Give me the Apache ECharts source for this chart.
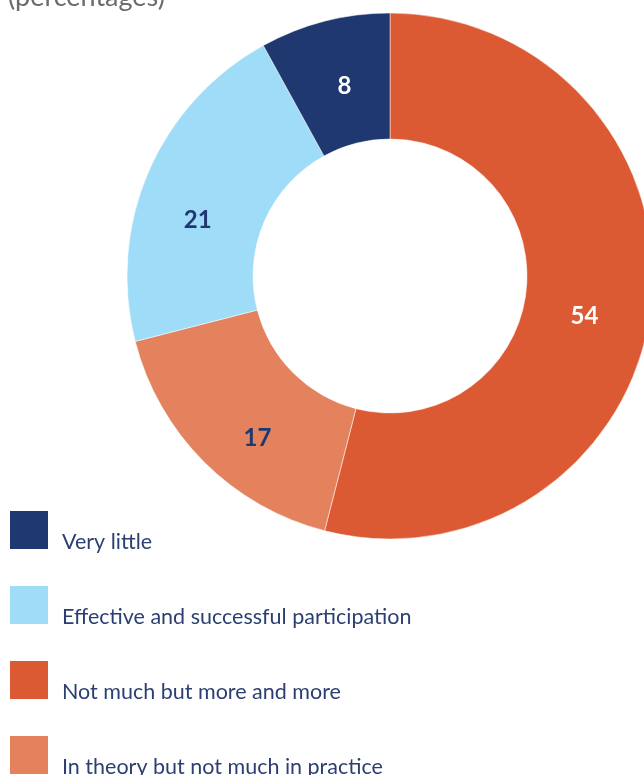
<!DOCTYPE html>
<html>
<head>
<meta charset="utf-8">
<script src="https://cdn.jsdelivr.net/npm/echarts@6/dist/echarts.min.js"></script>
<style>
  html, body { margin: 0; padding: 0; background: #ffffff; }
  #chart { width: 644px; height: 775px; }
</style>
</head>
<body>
<div id="chart"></div>
<script>
// Slice order runs clockwise from 12 o'clock
const categories = [
  'Not much but more and more',
  'In theory but not much in practice',
  'Effective and successful participation',
  'Very little'
];
const values = [54, 17, 21, 8];
const legendOrder = [
  'Very little',
  'Effective and successful participation',
  'Not much but more and more',
  'In theory but not much in practice'
];

const sliceColors = ['#db5a34', '#e3825c', '#9fdcf7', '#1f3870'];
const labelColors = ['#ffffff', '#1f3870', '#1f3870', '#ffffff'];
// nudges for value labels inside the ring
const labelNudge = [[-7, 15], [11, 19], [-6, 25], [5, 7]];

const chart = echarts.init(document.getElementById('chart'));
chart.setOption({
  animation: false,
  graphic: [{
    type: 'text',
    left: 8,
    top: -16,
    style: { text: '(percentages)', fill: '#6b6b6b', font: '27px Lato' }
  }],
  legend: {
    orient: 'vertical',
    left: 10,
    top: 511,
    height: 400,
    padding: 0,
    itemWidth: 38,
    itemHeight: 38,
    itemGap: 33,
    icon: 'rect',
    data: legendOrder,
    selectedMode: false,
    itemStyle: { borderWidth: 0 },
    formatter: function (name) { return '{t|' + name + '}'; },
    textStyle: {
      color: '#2b3f72',
      fontFamily: 'Lato',
      fontSize: 21.5,
      rich: {
        t: {
          color: '#2b3f72',
          fontFamily: 'Lato',
          fontSize: 21.5,
          padding: [24, 0, 0, 9]
        }
      }
    }
  },
  series: [{
    type: 'pie',
    center: [390, 276],
    radius: [137, 263],
    startAngle: 90,
    clockwise: true,
    silent: true,
    itemStyle: { borderColor: '#ffffff', borderWidth: 0.5 },
    label: {
      show: true,
      position: 'inside',
      formatter: '{c}',
      fontFamily: 'Lato',
      fontWeight: 'bold',
      fontSize: 24
    },
    labelLine: { show: false },
    labelLayout: function (p) {
      const n = labelNudge[p.dataIndex];
      return { dx: n[0], dy: n[1] };
    },
    data: categories.map(function (name, i) {
      return {
        name: name,
        value: values[i],
        itemStyle: { color: sliceColors[i] },
        label: { color: labelColors[i] }
      };
    })
  }]
});
</script>
</body>
</html>
